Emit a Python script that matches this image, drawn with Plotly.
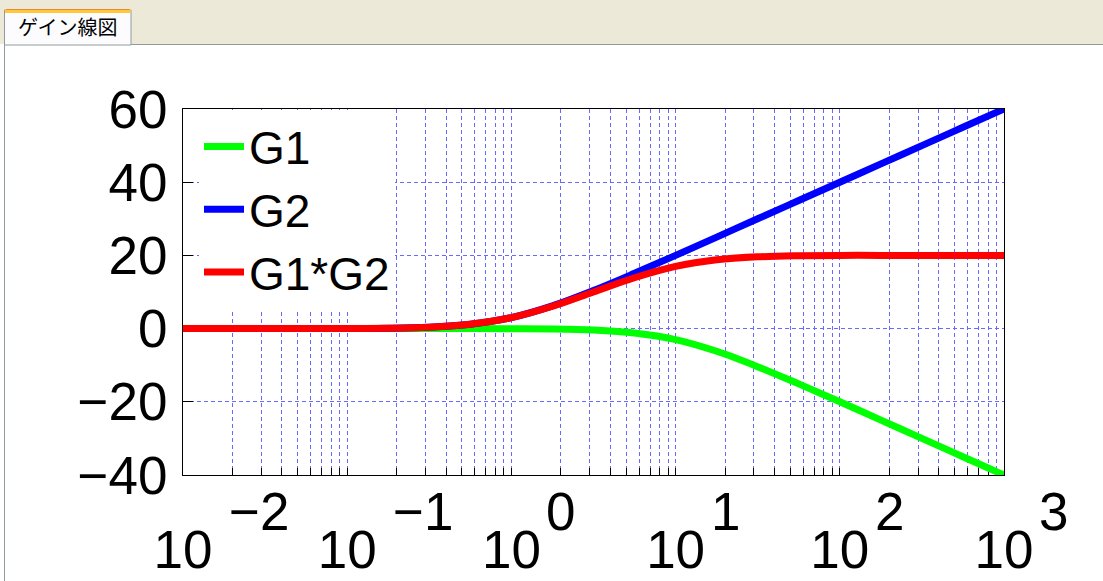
import plotly.graph_objects as go

# ---- data (frequency in rad/s, gain in dB) ----
omega = [0.01, 0.0178, 0.0316, 0.0562, 0.1, 0.178, 0.316, 0.562, 1, 1.78, 3.16,
         5.62, 10, 17.8, 31.6, 56.2, 100, 178, 316, 562, 1000]
g1_db = [0, 0, 0, 0, 0, 0, 0, 0, -0.04, -0.1, -0.4, -1.2, -3.0, -6.2, -10.4,
         -15.1, -20.0, -25.0, -30.0, -35.0, -40.0]
g2_db = [0, 0, 0, 0, 0.04, 0.1, 0.4, 1.2, 3.0, 6.2, 10.4, 15.1, 20.0, 25.0,
         30.0, 35.0, 40.0, 45.0, 50.0, 55.0, 60.0]
g12_db = [0, 0, 0, 0, 0, 0.1, 0.4, 1.2, 3.0, 6.1, 10.0, 13.9, 17.0, 18.8, 19.6,
          19.9, 20.0, 20.0, 20.0, 20.0, 20.0]

series_names = ["G1", "G2", "G1*G2"]
series_colors = ["#00ff00", "#0000ff", "#ff0000"]

x_exponents = [-2, -1, 0, 1, 2, 3]
y_ticks = [-40, -20, 0, 20, 40, 60]

W, H = 1103, 581
L, R, T, B = 183, 1004, 109, 475   # plot area in pixels


def px(xp):
    return (xp - L) / (R - L)


def py(yp):
    return (B - yp) / (B - T)


FONT = "Liberation Sans, Arial, sans-serif"
GRID = "rgb(105,105,255)"
DASH = "4px,3px"

fig = go.Figure()
for name, col, ys in zip(series_names, series_colors, [g1_db, g2_db, g12_db]):
    fig.add_trace(go.Scatter(x=omega, y=ys, mode="lines", name=name,
                             line=dict(color=col, width=7, shape="spline")))

major_vals = [10.0 ** e for e in x_exponents]
minor_vals = [m * 10.0 ** e for e in x_exponents[:-1] for m in range(2, 10)]

fig.update_xaxes(
    type="log", range=[x_exponents[0], x_exponents[-1]],
    tickmode="array", tickvals=major_vals, ticktext=["10"] * len(major_vals),
    tickfont=dict(family=FONT, size=53, color="black"),
    ticks="inside", ticklen=7, tickcolor="black",
    showgrid=True, gridcolor=GRID, griddash=DASH, gridwidth=1,
    minor=dict(tickvals=minor_vals, ticks="inside", ticklen=7, tickcolor="black",
               showgrid=True, gridcolor=GRID, griddash=DASH, gridwidth=1),
    showline=True, linecolor="black", linewidth=1, mirror=True,
    zeroline=False, ticklabelstandoff=28, layer="below traces",
)
fig.update_yaxes(
    range=[y_ticks[0], y_ticks[-1]], tickmode="array", tickvals=y_ticks,
    ticktext=[str(v).replace("-", "\u2212") for v in y_ticks],
    tickfont=dict(family=FONT, size=53, color="black"),
    ticks="inside", ticklen=10, tickcolor="black",
    showgrid=True, gridcolor=GRID, griddash=DASH, gridwidth=1,
    showline=True, linecolor="black", linewidth=1, mirror=True,
    zeroline=False, ticklabelstandoff=4, layer="below traces",
)

annotations = []
for e in x_exponents:
    label = str(e).replace("-", "\u2212")
    annotations.append(dict(
        x=e, xref="x", y=py(511), yref="paper", text=label, showarrow=False,
        xanchor="left", yanchor="middle", xshift=(44 if e < 0 else 33),
        font=dict(family=FONT, size=53, color="black")))

# tab title
annotations.append(dict(
    x=px(16), y=py(27), xref="paper", yref="paper", text="ゲイン線図",
    showarrow=False, xanchor="left", yanchor="middle",
    font=dict(family="Noto Sans CJK JP", size=20, color="black")))

shapes = [
    # beige strip behind the tab
    dict(type="rect", xref="paper", yref="paper", x0=px(0), x1=px(W), y0=py(44), y1=py(0),
         fillcolor="#ece9d8", line=dict(width=0), layer="below"),
    # panel top border
    dict(type="line", xref="paper", yref="paper", x0=px(131), x1=px(W), y0=py(44.5), y1=py(44.5),
         line=dict(color="#919b9c", width=1), layer="below"),
    # tab body
    dict(type="rect", xref="paper", yref="paper", x0=px(4.5), x1=px(131), y0=py(45), y1=py(10),
         fillcolor="#fcfcfe", line=dict(color="#919b9c", width=1), layer="below"),
    # panel left border
    dict(type="line", xref="paper", yref="paper", x0=px(4.5), x1=px(4.5), y0=py(44), y1=py(H),
         line=dict(color="#919b9c", width=1), layer="below"),
    # orange tab highlight
    dict(type="rect", xref="paper", yref="paper", x0=px(5), x1=px(130.5), y0=py(13), y1=py(9),
         fillcolor="#ffc83c", line=dict(width=0), layer="below"),
    dict(type="line", xref="paper", yref="paper", x0=px(6), x1=px(129.5), y0=py(9.5), y1=py(9.5),
         line=dict(color="#e68b2c", width=1), layer="below"),
    # opaque legend backdrop hiding the grid behind the legend
    dict(type="rect", xref="paper", yref="paper", x0=px(200), x1=px(424), y0=py(297), y1=py(117),
         fillcolor="white", line=dict(width=0), layer="between"),
]

fig.update_layout(
    width=W, height=H,
    margin=dict(l=L, r=W - R, t=T, b=H - B, autoexpand=False),
    paper_bgcolor="white", plot_bgcolor="white",
    showlegend=True,
    legend=dict(x=px(199), y=py(110), xanchor="left", yanchor="top",
                bgcolor="white", borderwidth=0,
                font=dict(family=FONT, size=46, color="black"),
                itemwidth=40, tracegroupgap=0),
    annotations=annotations, shapes=shapes,
)

fig.write_html("out.html")
